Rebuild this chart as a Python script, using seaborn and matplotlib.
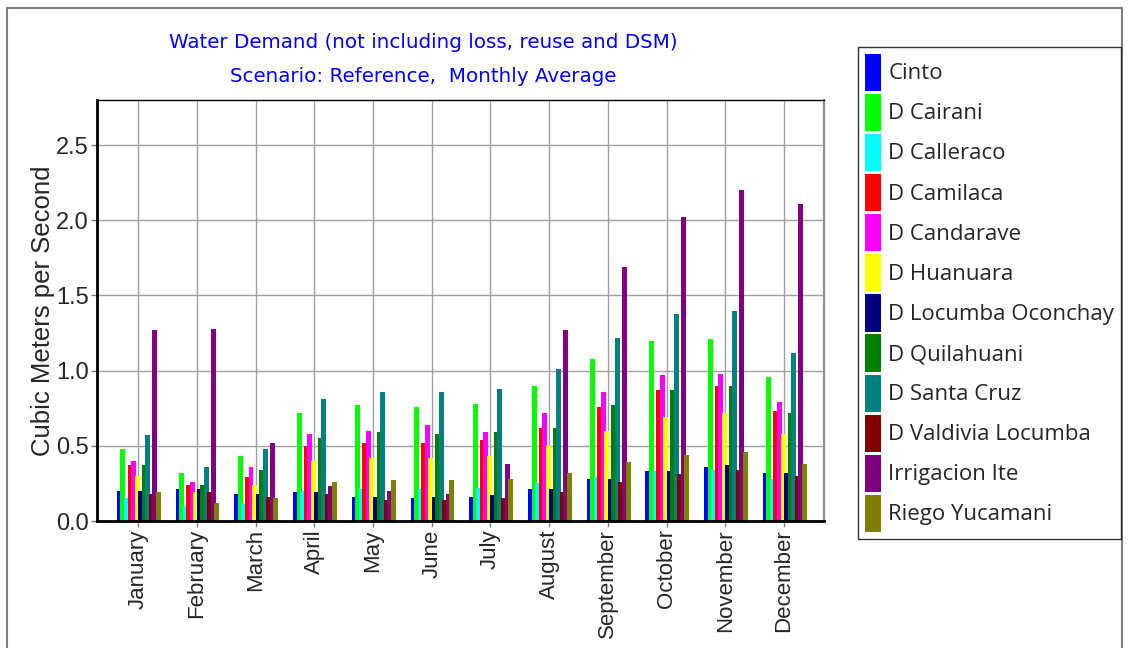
import pandas as pd
import matplotlib
matplotlib.use("Agg")
from matplotlib import pyplot as plt
from matplotlib.patches import Patch, Rectangle
import seaborn as sb

# Monthly average water demand (m3/s)
months = ["January", "February", "March", "April", "May", "June",
          "July", "August", "September", "October", "November", "December"]

cinto = [0.20, 0.21, 0.18, 0.19, 0.16, 0.15, 0.16, 0.21, 0.28, 0.33, 0.36, 0.32]
d_cairani = [0.48, 0.32, 0.43, 0.72, 0.77, 0.76, 0.78, 0.90, 1.08, 1.20, 1.21, 0.96]
d_calleraco = [0.15, 0.10, 0.12, 0.20, 0.21, 0.21, 0.22, 0.25, 0.29, 0.33, 0.34, 0.28]
d_camilaca = [0.37, 0.24, 0.29, 0.50, 0.52, 0.52, 0.54, 0.62, 0.76, 0.87, 0.90, 0.73]
d_candarave = [0.40, 0.26, 0.36, 0.58, 0.60, 0.64, 0.59, 0.72, 0.86, 0.97, 0.98, 0.79]
d_huanuara = [0.30, 0.19, 0.24, 0.40, 0.42, 0.42, 0.43, 0.50, 0.60, 0.69, 0.72, 0.58]
d_locumba_oconchay = [0.20, 0.21, 0.18, 0.19, 0.16, 0.16, 0.17, 0.21, 0.28, 0.33, 0.37, 0.32]
d_quilahuani = [0.37, 0.24, 0.34, 0.55, 0.59, 0.58, 0.59, 0.62, 0.77, 0.87, 0.90, 0.72]
d_santa_cruz = [0.57, 0.36, 0.48, 0.81, 0.86, 0.86, 0.88, 1.01, 1.22, 1.38, 1.40, 1.12]
d_valdivia_locumba = [0.18, 0.19, 0.16, 0.18, 0.14, 0.14, 0.15, 0.19, 0.26, 0.31, 0.34, 0.30]
irrigacion_ite = [1.27, 1.28, 0.52, 0.23, 0.20, 0.18, 0.38, 1.27, 1.69, 2.02, 2.20, 2.11]
riego_yucamani = [0.19, 0.12, 0.15, 0.26, 0.27, 0.27, 0.28, 0.32, 0.39, 0.44, 0.46, 0.38]

series_names = ["Cinto", "D Cairani", "D Calleraco", "D Camilaca", "D Candarave",
                "D Huanuara", "D Locumba Oconchay", "D Quilahuani", "D Santa Cruz",
                "D Valdivia Locumba", "Irrigacion Ite", "Riego Yucamani"]
series_values = [cinto, d_cairani, d_calleraco, d_camilaca, d_candarave, d_huanuara,
                 d_locumba_oconchay, d_quilahuani, d_santa_cruz, d_valdivia_locumba,
                 irrigacion_ite, riego_yucamani]
colors = ["#0000FF", "#00FF00", "#00FFFF", "#FF0000", "#FF00FF", "#FFFF00",
          "#000080", "#008000", "#008080", "#800000", "#800080", "#808000"]

# Long format table for seaborn
rows = []
for name, vals in zip(series_names, series_values):
    for m, v in zip(months, vals):
        rows.append({"Month": m, "Series": name, "Value": v})
data = pd.DataFrame(rows)

sb.set_theme(style="white")
plt.rcParams['font.family'] = ['Liberation Sans', 'DejaVu Sans']

fig = plt.figure(figsize=(11.28, 6.48), dpi=100)
ax = fig.add_axes([97 / 1128, 1 - 521 / 648, (824 - 97) / 1128, (521 - 100) / 648])

sb.barplot(data=data, x="Month", y="Value", hue="Series", order=months,
           hue_order=series_names, palette=colors, saturation=1, width=0.72,
           linewidth=0, edgecolor="none", legend=False, ax=ax)

# bars in the original overlap slightly: widen each one, keep its left edge
for bar in ax.patches:
    bar.set_width(0.085)
    bar.set_antialiased(False)

ax.set_xlim(-0.7, 11.68)
ax.set_ylim(0, 2.8)
ax.set_yticks([0, 0.5, 1.0, 1.5, 2.0, 2.5])
ax.set_yticklabels(["0.0", "0.5", "1.0", "1.5", "2.0", "2.5"], fontsize=17)
ax.set_xticks(range(len(months)))
ax.set_xticklabels(months, rotation=90, fontsize=16)
ax.set_xlabel("")
ax.set_ylabel("Cubic Meters per Second", fontsize=18.5)
ax.yaxis.set_label_coords((55 - 97) / 727, 0.5)

# grid lines behind the bars
ax.set_axisbelow(True)
ax.grid(True, axis="both", color="#a0a0a0", linewidth=1)
ax.tick_params(axis="both", which="both", length=4, width=1, color="#808080",
               left=True, bottom=True, pad=2)

for side in ["left", "bottom"]:
    ax.spines[side].set_color("black")
    ax.spines[side].set_linewidth(2)
ax.spines["top"].set_color("black")
ax.spines["top"].set_linewidth(1)
ax.spines["right"].set_color("#909090")
ax.spines["right"].set_linewidth(1.5)

# Title lines
fig.text(423 / 1128, 1 - 42 / 648, "Water Demand (not including loss, reuse and DSM)",
         ha="center", va="center", color="#0000FF", fontsize=14.3, family=['DejaVu Sans'])
fig.text(423 / 1128, 1 - 77 / 648, "Scenario: Reference,  Monthly Average",
         ha="center", va="center", color="#0000FF", fontsize=14.3, family=['DejaVu Sans'])

# Legend with tall colour patches
handles = [Patch(facecolor=c, edgecolor="none", label=n) for c, n in zip(colors, series_names)]
leg = fig.legend(handles=handles, loc="upper left", bbox_to_anchor=(858 / 1128, 1 - 47 / 648),
                 frameon=True, fancybox=False, handlelength=0.72,
                 handleheight=2.2, handletextpad=0.35, labelspacing=0.13,
                 borderpad=0.3, borderaxespad=0,
                 prop={'family': ['Open Sans', 'DejaVu Sans'], 'size': 16})
leg.get_frame().set_edgecolor("black")
leg.get_frame().set_linewidth(1)

# Outer frame around the chart area
fig.patches.append(Rectangle((7 / 1128, -0.01), (1122 - 7) / 1128, 1.01 - 8 / 648,
                             transform=fig.transFigure, fill=False,
                             edgecolor="#808080", linewidth=1.5))

fig.savefig("out.png", dpi=100)
